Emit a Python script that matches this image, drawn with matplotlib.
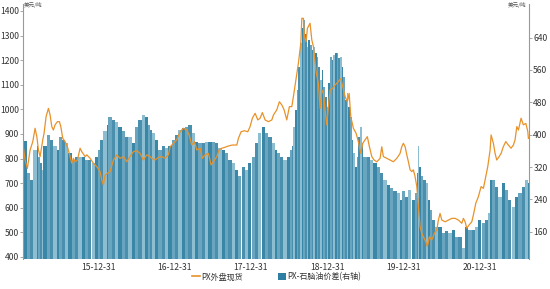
import matplotlib
matplotlib.use('Agg')
import matplotlib.pyplot as plt
import matplotlib.dates as mdates
from matplotlib.lines import Line2D
from matplotlib.patches import Patch
import numpy as np
import pandas as pd

plt.rcParams['font.family'] = ['Noto Sans CJK SC', 'DejaVu Sans']

# PX spot price (left axis), time as decimal year
px_year = [2015.013, 2015.043, 2015.073, 2015.109, 2015.144, 2015.174, 2015.197, 2015.218, 2015.240, 2015.275,
           2015.292, 2015.318, 2015.349, 2015.371, 2015.393, 2015.414, 2015.436, 2015.467, 2015.493, 2015.511,
           2015.537, 2015.567, 2015.598, 2015.633, 2015.655, 2015.676, 2015.699, 2015.729, 2015.764, 2015.786,
           2015.830, 2015.852, 2015.895, 2015.938, 2015.983, 2016.026, 2016.048, 2016.069, 2016.092, 2016.122,
           2016.157, 2016.201, 2016.245, 2016.288, 2016.332, 2016.376, 2016.419, 2016.463, 2016.507, 2016.550,
           2016.594, 2016.638, 2016.682, 2016.704, 2016.747, 2016.790, 2016.835, 2016.878, 2016.921, 2016.944,
           2016.987, 2017.031, 2017.075, 2017.118, 2017.163, 2017.193, 2017.228, 2017.262, 2017.294, 2017.337,
           2017.367, 2017.402, 2017.446, 2017.481, 2017.511, 2017.556, 2017.586, 2017.621, 2017.664, 2017.708,
           2017.760, 2017.818, 2017.839, 2017.874, 2017.917, 2017.962, 2017.992, 2018.022, 2018.058, 2018.093,
           2018.123, 2018.153, 2018.189, 2018.232, 2018.277, 2018.298, 2018.342, 2018.376, 2018.408, 2018.438,
           2018.473, 2018.507, 2018.539, 2018.560, 2018.595, 2018.625, 2018.657, 2018.670, 2018.691, 2018.704,
           2018.726, 2018.743, 2018.778, 2018.801, 2018.822, 2018.857, 2018.887, 2018.910, 2018.932, 2018.953,
           2018.975, 2018.997, 2019.018, 2019.041, 2019.076, 2019.106, 2019.149, 2019.181, 2019.207, 2019.237,
           2019.267, 2019.290, 2019.312, 2019.346, 2019.381, 2019.411, 2019.443, 2019.469, 2019.499, 2019.529,
           2019.556, 2019.587, 2019.617, 2019.653, 2019.696, 2019.718, 2019.739, 2019.784, 2019.827, 2019.870,
           2019.915, 2019.958, 2019.980, 2020.001, 2020.024, 2020.046, 2020.067, 2020.089, 2020.111, 2020.132,
           2020.155, 2020.177, 2020.198, 2020.220, 2020.242, 2020.263, 2020.295, 2020.316, 2020.342, 2020.373,
           2020.408, 2020.439, 2020.460, 2020.482, 2020.505, 2020.548, 2020.591, 2020.636, 2020.679, 2020.722,
           2020.767, 2020.788, 2020.810, 2020.832, 2020.862, 2020.898, 2020.919, 2020.950, 2020.984, 2021.020,
           2021.050, 2021.081, 2021.107, 2021.138, 2021.151, 2021.181, 2021.203, 2021.225, 2021.256, 2021.282,
           2021.311, 2021.343, 2021.377, 2021.413, 2021.443, 2021.465, 2021.488, 2021.509, 2021.544, 2021.574,
           2021.606, 2021.632, 2021.640]
px_price = [862, 794, 760, 835, 869, 923, 889, 835, 808, 876,
            903, 970, 1004, 977, 930, 916, 937, 950, 950, 930,
            882, 869, 848, 808, 781, 801, 787, 794, 842, 828,
            808, 815, 801, 781, 767, 747, 713, 693, 733, 740,
            747, 794, 815, 801, 808, 787, 808, 828, 832, 821,
            794, 815, 808, 801, 794, 805, 808, 801, 815, 848,
            862, 876, 909, 923, 916, 896, 855, 869, 835, 842,
            801, 815, 821, 774, 787, 808, 835, 842, 846, 851,
            855, 855, 882, 909, 913, 909, 930, 964, 984, 957,
            964, 987, 957, 950, 957, 977, 998, 1031, 1018, 998,
            957, 1011, 1011, 1052, 1126, 1187, 1269, 1370, 1370, 1296,
            1275, 1329, 1350, 1282, 1255, 1153, 1106, 1004, 1079, 1065,
            998, 937, 1011, 1079, 1086, 1099, 1113, 1126, 1092, 1052,
            1031, 1065, 970, 923, 903, 869, 821, 862, 876, 889,
            848, 808, 794, 787, 801, 848, 808, 801, 794, 787,
            801, 821, 848, 862, 848, 815, 787, 754, 747, 754,
            726, 686, 604, 523, 496, 482, 462, 442, 482, 469,
            496, 510, 550, 577, 550, 543, 550, 557, 557, 550,
            537, 557, 543, 517, 530, 543, 571, 618, 645, 686,
            679, 726, 767, 835, 896, 862, 821, 794, 808, 821,
            848, 869, 855, 842, 855, 876, 930, 916, 964, 937,
            943, 910, 882]

# PX - naphtha spread (right axis)
spread_year = [2015.017, 2015.066, 2015.109, 2015.152, 2015.197, 2015.218, 2015.240, 2015.262, 2015.283, 2015.328,
               2015.371, 2015.414, 2015.459, 2015.493, 2015.524, 2015.567, 2015.611, 2015.655, 2015.699, 2015.742,
               2015.786, 2015.830, 2015.873, 2015.917, 2015.961, 2016.004, 2016.026, 2016.069, 2016.114, 2016.135,
               2016.180, 2016.223, 2016.266, 2016.311, 2016.354, 2016.397, 2016.442, 2016.485, 2016.528, 2016.573,
               2016.616, 2016.659, 2016.682, 2016.704, 2016.747, 2016.790, 2016.835, 2016.878, 2016.921, 2016.966,
               2017.009, 2017.052, 2017.097, 2017.140, 2017.183, 2017.228, 2017.271, 2017.315, 2017.359, 2017.402,
               2017.446, 2017.490, 2017.533, 2017.577, 2017.621, 2017.664, 2017.708, 2017.752, 2017.796, 2017.839,
               2017.883, 2017.927, 2017.970, 2018.014, 2018.058, 2018.101, 2018.145, 2018.189, 2018.232, 2018.277,
               2018.320, 2018.342, 2018.385, 2018.429, 2018.473, 2018.516, 2018.539, 2018.560, 2018.582, 2018.604,
               2018.625, 2018.647, 2018.670, 2018.691, 2018.713, 2018.735, 2018.756, 2018.778, 2018.801, 2018.822,
               2018.844, 2018.866, 2018.887, 2018.910, 2018.932, 2018.953, 2018.975, 2018.997, 2019.018, 2019.041,
               2019.063, 2019.084, 2019.106, 2019.128, 2019.149, 2019.172, 2019.194, 2019.215, 2019.237, 2019.259,
               2019.280, 2019.303, 2019.325, 2019.346, 2019.368, 2019.391, 2019.411, 2019.434, 2019.456, 2019.477,
               2019.522, 2019.565, 2019.608, 2019.653, 2019.696, 2019.739, 2019.784, 2019.827, 2019.870, 2019.915,
               2019.958, 2019.980, 2020.024, 2020.067, 2020.111, 2020.155, 2020.177, 2020.190, 2020.207, 2020.233,
               2020.263, 2020.295, 2020.321, 2020.351, 2020.381, 2020.417, 2020.460, 2020.505, 2020.548, 2020.591,
               2020.636, 2020.679, 2020.722, 2020.767, 2020.810, 2020.853, 2020.898, 2020.941, 2020.984, 2021.028,
               2021.071, 2021.115, 2021.138, 2021.160, 2021.203, 2021.246, 2021.291, 2021.334, 2021.377, 2021.421,
               2021.465, 2021.509, 2021.553, 2021.596, 2021.640]
spread_val = [385, 305, 288, 362, 371, 346, 330, 313, 371, 400,
              387, 371, 362, 395, 387, 379, 354, 338, 346, 346,
              346, 338, 338, 330, 346, 362, 387, 408, 424, 445,
              437, 432, 420, 408, 395, 395, 379, 420, 437, 449,
              445, 424, 412, 404, 387, 362, 371, 367, 371, 387,
              400, 412, 416, 420, 424, 404, 383, 379, 379, 383,
              383, 383, 379, 367, 362, 354, 338, 330, 313, 297,
              321, 313, 330, 346, 379, 404, 420, 404, 395, 379,
              362, 354, 346, 338, 346, 362, 371, 420, 461, 511,
              568, 626, 663, 683, 650, 618, 634, 622, 609, 618,
              601, 593, 568, 535, 560, 519, 494, 469, 527, 593,
              585, 597, 601, 601, 589, 593, 568, 543, 486, 502,
              469, 445, 387, 354, 321, 346, 395, 420, 379, 346,
              346, 338, 330, 321, 305, 288, 276, 268, 260, 255,
              239, 260, 247, 264, 239, 255, 305, 371, 321, 297,
              288, 280, 239, 214, 190, 173, 173, 157, 161, 157,
              165, 148, 148, 120, 173, 165, 165, 173, 190, 181,
              190, 206, 288, 288, 272, 247, 280, 264, 239, 222,
              247, 255, 272, 288, 280]

year_ticks = ['2015-12-31', '2016-12-31', '2017-12-31', '2018-12-31', '2019-12-31', '2020-12-31']


def to_date(y):
    y = np.asarray(y, dtype=float)
    return pd.Timestamp('2015-12-31') + pd.to_timedelta((y - 2016.0) * 365.25, unit='D')


px_dates = to_date(px_year)
sp_dates = to_date(spread_year)

fig = plt.figure(figsize=(5.5, 2.89), dpi=100)
ax = fig.add_axes([0.042, 0.104, 0.920, 0.882])
ax2 = ax.twinx()

# bars on the right axis, drawn under the line
sp_num = mdates.date2num(sp_dates)
widths = np.diff(sp_num)
widths = np.append(widths, widths[-1])
shades = ['#3a86a7', '#6aa5bf', '#4a90ae', '#8dbdd1']
bar_colors = [shades[i % len(shades)] for i in range(len(sp_num))]
ax2.bar(sp_num, spread_val, width=widths * 0.92, align='edge', color=bar_colors,
        edgecolor='none', linewidth=0)
ax2.set_ylim(93, 723)
ax2.set_yticks([160, 240, 320, 400, 480, 560, 640])

ax.plot(mdates.date2num(px_dates), px_price, color='#e8922a', lw=0.9)
ax.set_ylim(392, 1428)
ax.set_yticks(range(400, 1401, 100))

ax.set_zorder(ax2.get_zorder() + 1)
ax.patch.set_visible(False)

ax.set_xlim(mdates.date2num(to_date([2015.017]))[0], mdates.date2num(to_date([2021.649]))[0])
ax.set_xticks(mdates.date2num(pd.to_datetime(year_ticks)))
ax.xaxis.set_major_formatter(mdates.DateFormatter('%y-%m-%d'))

for a in (ax, ax2):
    for s in ('top', 'bottom'):
        a.spines[s].set_visible(False)
    a.spines['left'].set_color('#999999')
    a.spines['right'].set_color('#999999')
    a.tick_params(axis='y', labelsize=6.2, colors='#333333', length=2, width=0.6, pad=1,
                  color='#999999')
ax.spines['right'].set_visible(False)
ax2.spines['left'].set_visible(False)
ax.tick_params(axis='x', labelsize=6.2, colors='#333333', length=0, pad=3)

fig.text(0.044, 0.992, '美元/吨', fontsize=4, color='#555555', va='top', ha='left')
fig.text(0.958, 0.992, '美元/吨', fontsize=4, color='#555555', va='top', ha='right')

handles = [Line2D([0], [0], color='#e8922a', lw=1.2),
           Patch(facecolor='#2e7ea3', edgecolor='none')]
fig.legend(handles, ['PX外盘现货', 'PX-石脑油价差(右轴)'], loc='center',
           bbox_to_anchor=(0.503, 0.042), ncol=2, frameon=False, fontsize=5.8,
           handlelength=1.0, handleheight=1.0, columnspacing=4.3, handletextpad=0.2,
           labelcolor='#333333')

fig.savefig('out.png', dpi=100)
